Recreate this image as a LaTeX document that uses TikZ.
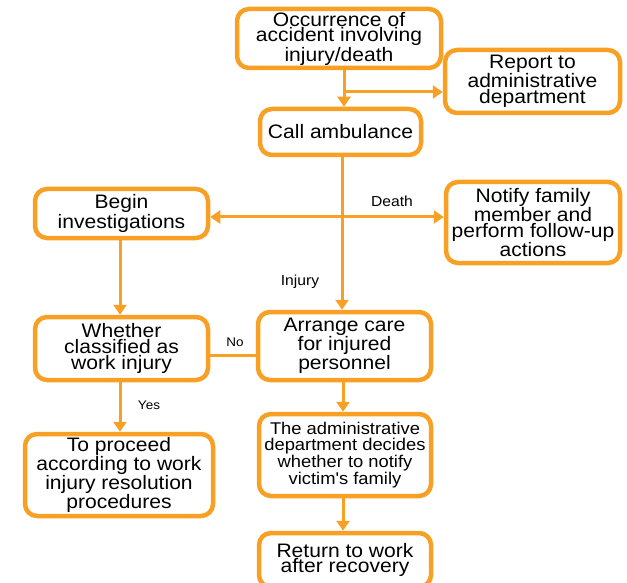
\documentclass[tikz,border=0pt]{standalone}
\usepackage{fontspec}
\setmainfont{Liberation Sans}
\newfontfamily\bx[FakeStretch=1.08]{Liberation Sans}
\usetikzlibrary{arrows.meta,calc}
\definecolor{orng}{RGB}{247,160,36}
\tikzset{
  box/.style={draw=orng, line width=4.5pt, rounded corners=12pt, fill=white,
    align=center, inner sep=0pt, font=\bx\fontsize{19.5}{15.8}\selectfont},
  conn/.style={draw=orng, line width=3pt},
  arr/.style={conn, -{Triangle[width=13pt,length=10pt]}},
  lbl/.style={font=\bx\fontsize{14.5}{15}\selectfont, inner sep=0pt},
  slbl/.style={font=\bx\fontsize{12.5}{13}\selectfont, inner sep=0pt}
}
\begin{document}
\begin{tikzpicture}[x=1pt,y=1pt]
\clip (0,0) rectangle (627,-583);
\fill[white] (0,0) rectangle (627,-583);
\node[box, minimum width=204pt, minimum height=59pt] (occ) at (339,-38.5) {Occurrence of\\accident involving\\injury/death};
\node[box, minimum width=175pt, minimum height=63pt] (rep) at (532.5,-81.5) {Report to\\administrative\\department};
\node[box, minimum width=161pt, minimum height=46pt] (amb) at (340.5,-132) {Call ambulance};
\node[box, minimum width=173pt, minimum height=49pt] (beg) at (121.5,-213.5) {Begin\\investigations};
\node[box, minimum width=174pt, minimum height=81pt] (noti) at (533,-222.5) {Notify family\\member and\\perform follow-up\\actions};
\node[box, minimum width=173pt, minimum height=63pt] (whe) at (121.5,-348.5) {Whether\\classified as\\work injury};
\node[box, minimum width=173pt, minimum height=68pt] (arr) at (344.5,-346) {Arrange care\\for injured\\personnel};
\node[box, minimum width=188pt, minimum height=82pt] (pro) at (119,-475) {To proceed\\according to work\\injury resolution\\procedures};
\node[box, minimum width=172pt, minimum height=82pt, font=\bx\fontsize{17}{15.8}\selectfont] (adm) at (345,-455) {The administrative\\department decides\\whether to notify\\victim's family};
\node[box, minimum width=172pt, minimum height=54pt] (ret) at (345,-560) {Return to work\\after recovery};

\coordinate (c1) at (344,-92);
\coordinate (c2) at (342,-217);
\coordinate (cl) at (120,0);
\coordinate (cr) at (343,0);

\draw[arr] (occ.south -| c1) -- (amb.north -| c1);
\draw[arr] (c1) -- (rep.west |- c1);
\draw[arr] (amb.south -| c2) -- (arr.north -| c2);
\draw[arr] (c2) -- (beg.east |- c2);
\draw[arr] (c2) -- (noti.west |- c2);
\draw[arr] (beg.south -| cl) -- (whe.north -| cl);
\draw[conn] ($(whe.east)+(0,-6.5)$) -- ($(arr.west)+(0,-9)$);
\draw[arr] (whe.south -| cl) -- (pro.north -| cl);
\draw[arr] (arr.south -| cr) -- (adm.north -| cr);
\draw[arr] (adm.south -| cr) -- (ret.north -| cr);

\node[lbl] (ld) at (392,-201) {Death};
\node[lbl] (li) at (300,-282) {Injury};
\node[slbl] (ln) at (235,-342) {No};
\node[slbl] (ly) at (149,-405) {Yes};
\end{tikzpicture}
\end{document}
